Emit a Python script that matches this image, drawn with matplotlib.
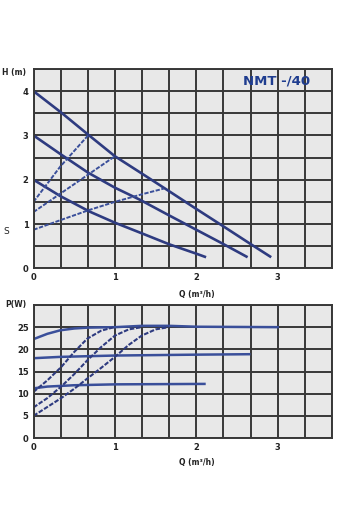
import numpy as np
import matplotlib
matplotlib.use("Agg")
import matplotlib.pyplot as plt

# ---- Data: head curves H(Q) ----
q_h1 = [0, 0.345, 0.67, 1.0, 1.305, 1.65, 2.0, 2.33, 2.665, 2.92]
h_h1 = [4.0, 3.51, 3.02, 2.53, 2.17, 1.76, 1.34, 0.95, 0.55, 0.25]
q_h2 = [0, 0.33, 0.67, 1.0, 1.305, 1.65, 2.0, 2.33, 2.63]
h_h2 = [3.0, 2.58, 2.16, 1.82, 1.55, 1.21, 0.87, 0.55, 0.25]
q_h3 = [0, 0.33, 0.69, 1.0, 1.33, 1.67, 2.0, 2.12]
h_h3 = [2.0, 1.63, 1.28, 1.03, 0.79, 0.54, 0.33, 0.25]
# system (dashed) curves
q_s1 = [0, 0.33, 0.67]
h_s1 = [1.5, 2.3, 3.0]
q_s2 = [0, 0.5, 1.0]
h_s2 = [1.27, 1.9, 2.53]
q_s3 = [0, 0.35, 0.69, 1.0, 1.33, 1.6]
h_s3 = [0.87, 1.1, 1.32, 1.5, 1.67, 1.8]

# ---- Data: power curves P(Q) ----
q_p1 = [0, 0.17, 0.33, 0.5, 0.67, 1.0, 1.33, 1.67, 2.0, 3.0]
p_p1 = [22.3, 23.5, 24.3, 24.7, 24.9, 25.0, 25.3, 25.3, 25.1, 25.0]
q_p2 = [0, 0.33, 1.0, 2.0, 2.65]
p_p2 = [18.0, 18.3, 18.6, 18.8, 18.9]
q_p3 = [0, 0.17, 0.5, 1.0, 2.1]
p_p3 = [11.2, 11.6, 11.9, 12.1, 12.2]
# dashed S-curves
q_pa = [0, 0.17, 0.34, 0.5, 0.66, 0.83, 0.99]
p_pa = [10.4, 13.0, 16.0, 19.4, 22.4, 24.2, 25.0]
q_pb = [0, 0.17, 0.34, 0.5, 0.66, 0.83, 1.0, 1.17, 1.33]
p_pb = [6.9, 9.0, 11.6, 14.4, 17.5, 20.5, 23.1, 24.5, 25.0]
q_pc = [0, 0.17, 0.34, 0.5, 0.66, 0.83, 1.0, 1.17, 1.33, 1.5, 1.66]
p_pc = [5.0, 7.0, 9.0, 11.1, 13.4, 15.8, 18.3, 21.0, 23.1, 24.5, 25.0]

title = "NMT -/40"
xtick_labels = ["0", "", "", "1", "", "", "2", "", "", "3", "", ""]

LINE = "#2e3b80"
LINE2 = "#3a4f9a"
GRID = "#383838"
FACE = "#e8e8e8"

fig = plt.figure(figsize=(3.5, 5.3), dpi=100)
fig.patch.set_facecolor("white")

W, H = 350.0, 530.0
def axpos(l, r, t, b):
    return [l / W, 1 - b / H, (r - l) / W, (b - t) / H]

ax1 = fig.add_axes(axpos(33.5, 332, 69, 268.3))
ax2 = fig.add_axes(axpos(33.5, 332, 305, 438))

xmax = 11 / 3
xt = np.arange(12) / 3

for ax in (ax1, ax2):
    ax.set_facecolor(FACE)
    ax.set_xlim(0, xmax)
    ax.set_xticks(xt)
    ax.set_xticklabels(xtick_labels)
    ax.grid(True, color=GRID, lw=1.4)
    ax.set_axisbelow(True)
    for s in ax.spines.values():
        s.set_color(GRID)
        s.set_linewidth(1.4)
    ax.tick_params(length=0, pad=3.5, labelsize=6, colors="#222222")
    for lab in ax.get_xticklabels() + ax.get_yticklabels():
        lab.set_fontweight("bold")

# top chart
ax1.set_ylim(0, 4.5)
ax1.set_yticks(np.arange(0, 4.51, 0.5))
ax1.set_yticklabels(["0", "", "1", "", "2", "", "3", "", "4", ""], fontweight="bold")
for q, h in [(q_h1, h_h1), (q_h2, h_h2), (q_h3, h_h3)]:
    ax1.plot(q, h, color=LINE, lw=1.9, solid_capstyle="butt")
for q, h in [(q_s1, h_s1), (q_s2, h_s2), (q_s3, h_s3)]:
    ax1.plot(q, h, color=LINE2, lw=1.4, ls=(0, (2.2, 0.8)))

# bottom chart
ax2.set_ylim(0, 30)
ax2.set_yticks(np.arange(0, 30.1, 5))
ax2.set_yticklabels(["0", "5", "10", "15", "20", "25", ""], fontweight="bold")
for q, p in [(q_p1, p_p1), (q_p2, p_p2), (q_p3, p_p3)]:
    ax2.plot(q, p, color=LINE2, lw=1.8)
for q, p in [(q_pa, p_pa), (q_pb, p_pb), (q_pc, p_pc)]:
    ax2.plot(q, p, color=LINE, lw=1.5, ls=(0, (2.2, 0.8)))

# texts
fig.text(14 / W, 1 - 72 / H, "H (m)", fontsize=5.5, fontweight="bold", ha="center", va="center", color="#222222")
fig.text(16 / W, 1 - 305 / H, "P(W)", fontsize=5.5, fontweight="bold", ha="center", va="center", color="#222222")
fig.text(197 / W, 1 - 294 / H, "Q (m³/h)", fontsize=5.5, fontweight="bold", ha="center", va="center", color="#222222")
fig.text(197 / W, 1 - 462 / H, "Q (m³/h)", fontsize=5.5, fontweight="bold", ha="center", va="center", color="#222222")
fig.text(6 / W, 1 - 232 / H, "S", fontsize=6.5, ha="center", va="center", color="#222222")
fig.text(277 / W, 1 - 81 / H, title, fontsize=9.5, fontweight="bold", ha="center", va="center", color="#1f3d8f")

fig.savefig("out.png", dpi=100)
